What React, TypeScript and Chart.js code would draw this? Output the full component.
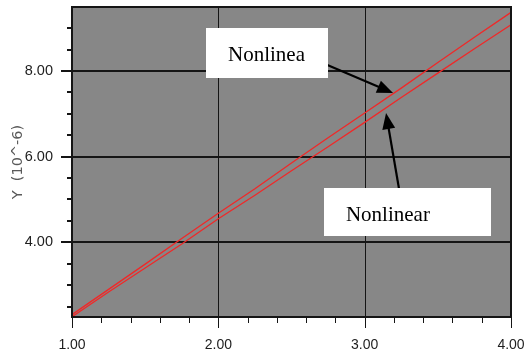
import React, { useEffect, useRef } from 'react';
import { Chart, registerables } from 'chart.js';

Chart.register(...registerables);

// ---- data ----
const X_VALUES = [1.0, 1.25, 1.5, 1.75, 2.0, 2.25, 2.5, 2.75, 3.0, 3.25, 3.5, 3.75, 4.0];
const UPPER_Y = [2.31, 2.9, 3.49, 4.09, 4.68, 5.25, 5.85, 6.44, 7.02, 7.6, 8.2, 8.79, 9.37];
const LOWER_Y = [2.26, 2.84, 3.4, 3.96, 4.55, 5.1, 5.67, 6.23, 6.8, 7.38, 7.95, 8.52, 9.08];

const X_MIN = 1;
const X_MAX = 4;
const X_STEP = 0.2;
const Y_MIN = 2.255;
const Y_MAX = 9.495;
const Y_STEP = 0.5;
const X_LABELED = [1, 2, 3, 4];
const Y_LABELED = [4, 6, 8];
const Y_TITLE = 'Y  (10^-6)';

// annotations (data coordinates)
const NOTE_TEXTS = ['Nonlinea', 'Nonlinear'];
const NOTE_BOXES = [
  [1.916, 9.004, 2.749, 7.836],
  [2.722, 5.268, 3.863, 4.147],
];
const NOTE_TEXT_AT = [
  [2.066, 8.24],
  [2.872, 4.504],
];
const NOTE_ARROW_FROM = [
  [2.681, 8.233],
  [3.235, 5.244],
];
const NOTE_ARROW_TO = [
  [3.194, 7.486],
  [3.146, 7.019],
];

const RED = '#f02828';
const PLOT_BG = '#878787';
const INK = '#151515';

Chart.defaults.font.family = '"Liberation Sans", Arial, sans-serif';
Chart.defaults.font.size = 14;

const near = (a: number, b: number) => Math.abs(a - b) < 1e-6;
const isIn = (v: number, list: number[]) => list.some((l) => near(l, v));
const onStep = (v: number, step: number) => near(v / step, Math.round(v / step));

const framePlugin = {
  id: 'frame',
  beforeDatasetsDraw(chart: any) {
    const { ctx, chartArea: a, scales } = chart;
    const xs = scales.x;
    const ys = scales.y;
    ctx.save();
    ctx.fillStyle = PLOT_BG;
    ctx.fillRect(a.left, a.top, a.right - a.left, a.bottom - a.top);
    ctx.strokeStyle = INK;
    ys.ticks.forEach((t: any) => {
      const v = t.value;
      const py = Math.round(ys.getPixelForValue(v));
      ctx.beginPath();
      if (isIn(v, Y_LABELED)) {
        ctx.lineWidth = 2;
        ctx.moveTo(a.left - 11, py);
        ctx.lineTo(a.right, py);
      } else if (onStep(v, Y_STEP)) {
        ctx.lineWidth = 2;
        ctx.moveTo(a.left - 5, py);
        ctx.lineTo(a.left, py);
      }
      ctx.stroke();
    });
    xs.ticks.forEach((t: any) => {
      const v = t.value;
      const px = Math.round(xs.getPixelForValue(v)) + 0.5;
      ctx.beginPath();
      ctx.lineWidth = 1;
      if (isIn(v, X_LABELED)) {
        ctx.moveTo(px, a.top);
        ctx.lineTo(px, a.bottom + 11);
      } else if (onStep(v, X_STEP)) {
        ctx.moveTo(px, a.bottom);
        ctx.lineTo(px, a.bottom + 6);
      }
      ctx.stroke();
    });
    ctx.restore();
  },
  afterDatasetsDraw(chart: any) {
    const { ctx, chartArea: a } = chart;
    ctx.save();
    ctx.strokeStyle = INK;
    ctx.lineWidth = 2;
    ctx.strokeRect(Math.round(a.left), Math.round(a.top), Math.round(a.right - a.left), Math.round(a.bottom - a.top));
    ctx.restore();
  },
  afterDraw(chart: any) {
    const { ctx, scales } = chart;
    const xs = scales.x;
    const ys = scales.y;
    const P = (p: number[]) => [xs.getPixelForValue(p[0]), ys.getPixelForValue(p[1])];
    ctx.save();
    NOTE_TEXTS.forEach((text, i) => {
      // arrow
      const [x0, y0] = P(NOTE_ARROW_FROM[i]);
      const [x1, y1] = P(NOTE_ARROW_TO[i]);
      const dx = x1 - x0;
      const dy = y1 - y0;
      const len = Math.hypot(dx, dy);
      const ux = dx / len;
      const uy = dy / len;
      const head = 16;
      const half = 6.5;
      const bx = x1 - ux * head;
      const by = y1 - uy * head;
      ctx.strokeStyle = '#000';
      ctx.fillStyle = '#000';
      ctx.lineWidth = 2.2;
      ctx.beginPath();
      ctx.moveTo(x0, y0);
      ctx.lineTo(bx + ux * 2, by + uy * 2);
      ctx.stroke();
      ctx.beginPath();
      ctx.moveTo(x1, y1);
      ctx.lineTo(bx - uy * half, by + ux * half);
      ctx.lineTo(bx + uy * half, by - ux * half);
      ctx.closePath();
      ctx.fill();
      // box
      const [l, t] = P([NOTE_BOXES[i][0], NOTE_BOXES[i][1]]);
      const [r, b] = P([NOTE_BOXES[i][2], NOTE_BOXES[i][3]]);
      ctx.fillStyle = '#ffffff';
      ctx.fillRect(Math.round(l), Math.round(t), Math.round(r - l), Math.round(b - t));
      // text
      const [tx, ty] = P(NOTE_TEXT_AT[i]);
      ctx.fillStyle = '#000';
      ctx.font = '21px "Liberation Serif", "Times New Roman", serif';
      ctx.textAlign = 'left';
      ctx.textBaseline = 'alphabetic';
      ctx.fillText(text, tx, ty);
    });
    ctx.restore();
  },
};

export default function App() {
  const ref = useRef<HTMLCanvasElement | null>(null);
  useEffect(() => {
    const canvas = ref.current;
    if (!canvas) return;
    const chart = new Chart(canvas, {
      type: 'scatter',
      data: {
        datasets: [
          {
            data: X_VALUES.map((x, i) => ({ x, y: UPPER_Y[i] })),
            showLine: true,
            borderColor: RED,
            borderWidth: 1.3,
            pointRadius: 0,
            tension: 0,
          },
          {
            data: X_VALUES.map((x, i) => ({ x, y: LOWER_Y[i] })),
            showLine: true,
            borderColor: RED,
            borderWidth: 1.3,
            pointRadius: 0,
            tension: 0,
          },
        ],
      },
      options: {
        animation: false,
        responsive: false,
        maintainAspectRatio: false,
        layout: { padding: { top: 7, right: 13, left: 0, bottom: 0 } },
        plugins: { legend: { display: false }, tooltip: { enabled: false } },
        scales: {
          x: {
            type: 'linear',
            min: X_MIN,
            max: X_MAX,
            grid: { display: false },
            border: { display: false },
            ticks: {
              stepSize: X_STEP,
              includeBounds: false,
              autoSkip: false,
              maxRotation: 0,
              minRotation: 0,
              padding: 12,
              color: '#1e1e1e',
              font: { family: '"Liberation Sans", Arial, sans-serif', size: 14 },
              callback: (v: any) => (isIn(Number(v), X_LABELED) ? Number(v).toFixed(2) : ''),
            },
            afterFit: (s: any) => {
              s.height = 36;
              s.paddingLeft = 0;
              s.paddingRight = 0;
              s.paddingTop = 0;
              s.paddingBottom = 0;
            },
          },
          y: {
            type: 'linear',
            min: Y_MIN,
            max: Y_MAX,
            grid: { display: false },
            border: { display: false },
            title: {
              display: true,
              text: Y_TITLE,
              color: '#5a5a5a',
              font: { family: '"DejaVu Sans", sans-serif', size: 14.5 },
              padding: { top: 10, bottom: 0 },
            },
            ticks: {
              stepSize: Y_STEP,
              includeBounds: false,
              autoSkip: false,
              padding: 11,
              color: '#1e1e1e',
              font: { family: '"Liberation Sans", Arial, sans-serif', size: 14.5 },
              callback: (v: any) => (isIn(Number(v), Y_LABELED) ? Number(v).toFixed(2) : ''),
            },
            afterFit: (s: any) => {
              s.width = 72;
              s.paddingLeft = 0;
              s.paddingRight = 0;
              s.paddingTop = 0;
              s.paddingBottom = 0;
            },
          },
        },
      },
      plugins: [framePlugin],
    } as any);
    return () => chart.destroy();
  }, []);
  return (
    <div style={{ position: 'fixed', left: 0, top: 0, width: 524, height: 353, background: '#ffffff' }}>
      <canvas ref={ref} width={524} height={353} style={{ display: 'block', width: 524, height: 353 }} />
    </div>
  );
}
